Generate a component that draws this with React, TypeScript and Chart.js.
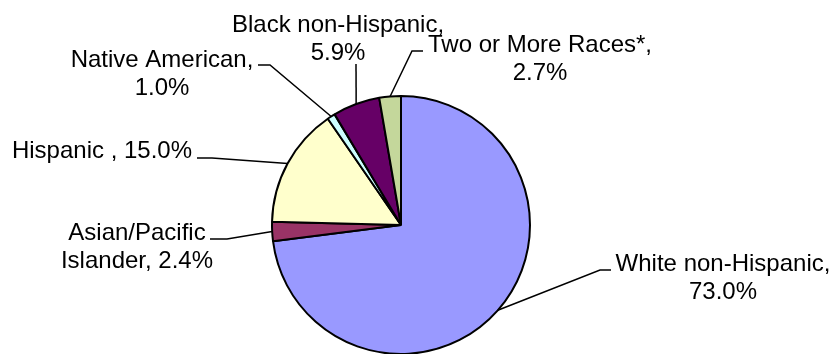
import React, { useEffect, useRef } from "react";
import { Chart, registerables } from "chart.js";

Chart.register(...registerables);

// ---- data ----
const categories = [
  "White non-Hispanic",
  "Asian/Pacific\nIslander",
  "Hispanic ",
  "Native American",
  "Black non-Hispanic",
  "Two or More Races*",
];
const shares = [73.0, 2.4, 15.0, 1.0, 5.9, 2.7];
const sliceColors = ["#9999FF", "#993366", "#FFFFCC", "#CCFFFF", "#660066", "#C4D79B"];

// ---- label layout (pixel positions of text and leader elbows) ----
type LabelLayout = { cx: number; y: number; breakBeforeValue: boolean; path: number[][] };
const labelLayout: LabelLayout[] = [
  { cx: 723, y: 271, breakBeforeValue: true, path: [[611, 270], [600, 270]] },
  { cx: 137, y: 240, breakBeforeValue: false, path: [[210, 239], [227, 239]] },
  { cx: 102, y: 158, breakBeforeValue: false, path: [[197, 158], [212, 158]] },
  { cx: 162, y: 67, breakBeforeValue: true, path: [[258, 65], [270, 65]] },
  { cx: 338, y: 32, breakBeforeValue: true, path: [[356, 64]] },
  { cx: 540, y: 52, breakBeforeValue: true, path: [[423, 51], [412, 51]] },
];

const FONT = "24px 'Liberation Sans', Arial, sans-serif";
const LINE_H = 28;

const labelPlugin = {
  id: "leaderLabels",
  afterDatasetsDraw(chart: any) {
    const ctx = chart.ctx as CanvasRenderingContext2D;
    const meta = chart.getDatasetMeta(0);
    ctx.save();
    meta.data.forEach((arc: any, i: number) => {
      const p = arc.getProps(["x", "y", "startAngle", "endAngle", "outerRadius"], true);
      const mid = (p.startAngle + p.endAngle) / 2;
      const ex = p.x + Math.cos(mid) * p.outerRadius;
      const ey = p.y + Math.sin(mid) * p.outerRadius;
      const lay = labelLayout[i];
      // leader line
      ctx.beginPath();
      ctx.strokeStyle = "#000";
      ctx.lineWidth = 1.5;
      lay.path.forEach((pt, k) => (k === 0 ? ctx.moveTo(pt[0], pt[1]) : ctx.lineTo(pt[0], pt[1])));
      ctx.lineTo(ex, ey);
      ctx.stroke();
      // text
      const pct = shares[i].toFixed(1) + "%";
      const text = categories[i] + "," + (lay.breakBeforeValue ? "\n" : " ") + pct;
      const lines = text.split("\n");
      ctx.fillStyle = "#000";
      ctx.font = FONT;
      ctx.textAlign = "center";
      ctx.textBaseline = "alphabetic";
      lines.forEach((ln, k) => ctx.fillText(ln, lay.cx, lay.y + k * LINE_H));
    });
    ctx.restore();
  },
};

export default function App() {
  const ref = useRef<HTMLCanvasElement | null>(null);
  useEffect(() => {
    if (!ref.current) return;
    const chart = new Chart(ref.current, {
      type: "pie",
      data: {
        labels: categories,
        datasets: [
          {
            data: shares,
            backgroundColor: sliceColors,
            borderColor: "#000",
            borderWidth: 2,
            radius: 129,
          } as any,
        ],
      },
      options: {
        responsive: false,
        animation: false,
        layout: { padding: { top: 96, bottom: 0, left: 0, right: 28 } },
        plugins: {
          legend: { display: false },
          tooltip: { enabled: false },
        },
      },
      plugins: [labelPlugin],
    });
    return () => chart.destroy();
  }, []);
  return (
    <div style={{ position: "absolute", left: 0, top: 0, width: 830, height: 354, background: "#fff" }}>
      <canvas ref={ref} width={830} height={354} style={{ display: "block" }} />
    </div>
  );
}
